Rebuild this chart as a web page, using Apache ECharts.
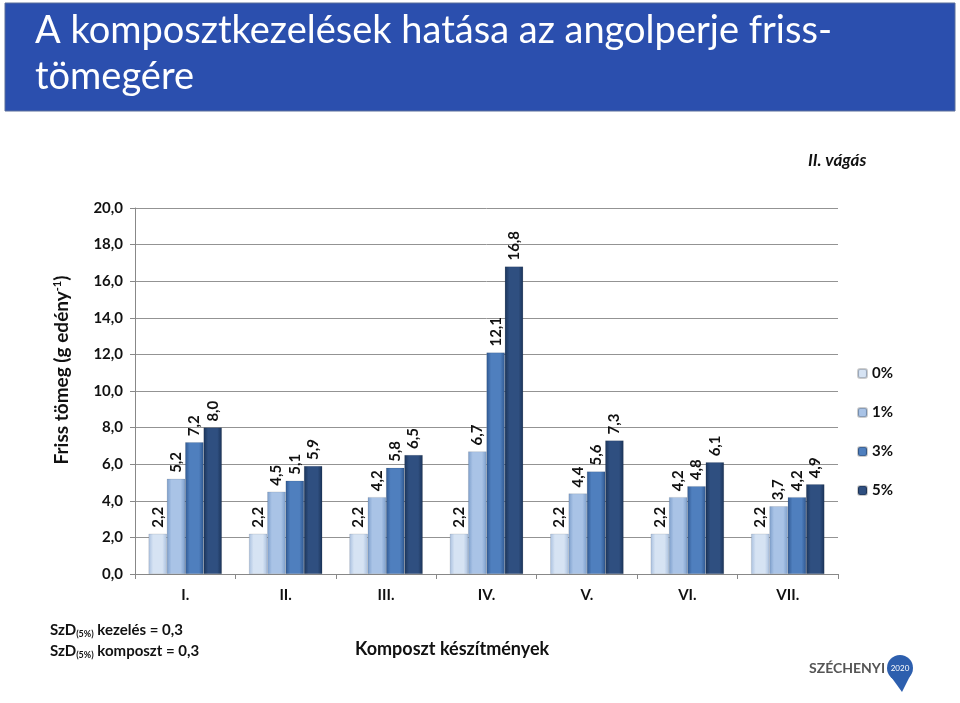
<!DOCTYPE html>
<html>
<head>
<meta charset="utf-8">
<script src="https://cdn.jsdelivr.net/npm/echarts@6/dist/echarts.min.js"></script>
<style>
html, body { margin: 0; padding: 0; background: #fff; }
#chart { width: 960px; height: 703px; }
</style>
</head>
<body>
<div id="chart"></div>
<script>
// kategóriák (komposzt készítmények)
var kategoriak = ['I.', 'II.', 'III.', 'IV.', 'V.', 'VI.', 'VII.'];
var sorozatNevek = ['0%', '1%', '3%', '5%'];
// friss tömeg, g edény-1
var adat0 = [2.2, 2.2, 2.2, 2.2, 2.2, 2.2, 2.2];
var adat1 = [5.2, 4.5, 4.2, 6.7, 4.4, 4.2, 3.7];
var adat3 = [7.2, 5.1, 5.8, 12.1, 5.6, 4.8, 4.2];
var adat5 = [8.0, 5.9, 6.5, 16.8, 7.3, 6.1, 4.9];
var szinek = [
  ['#d6e3f3', '#a9c0df'],
  ['#a9c3e6', '#7c9ecb'],
  ['#4f7fbe', '#2f5891'],
  ['#2f4f80', '#1a3358']
];

var betu = 'Lato, "Open Sans", sans-serif';

function grad(c) {
  return new echarts.graphic.LinearGradient(0, 0, 1, 0, [
    { offset: 0, color: c[1] },
    { offset: 0.25, color: c[0] },
    { offset: 0.75, color: c[0] },
    { offset: 1, color: c[1] }
  ]);
}

function sor(nev, adat, i) {
  return {
    name: nev,
    type: 'bar',
    data: adat,
    barGap: '0%',
    barCategoryGap: '27%',
    itemStyle: { color: grad(szinek[i]), borderColor: 'rgba(0,0,0,0.2)', borderWidth: 0.5 },
    label: {
      show: true,
      position: 'top',
      rotate: 90,
      align: 'left',
      verticalAlign: 'middle',
      distance: 6,
      color: '#111',
      fontWeight: 'bold',
      fontSize: 15,
      fontFamily: betu,
      formatter: function (p) { return p.value.toFixed(1).replace('.', ','); }
    }
  };
}

var chart = echarts.init(document.getElementById('chart'));
chart.setOption({
  animation: false,
  backgroundColor: '#fff',
  color: szinek.map(function (c) { return c[1]; }),
  grid: { left: 135, right: 122, top: 208, bottom: 129 },
  legend: {
    orient: 'vertical',
    left: 852,
    top: 361,
    itemWidth: 9,
    itemHeight: 9,
    itemGap: 24,
    data: sorozatNevek,
    textStyle: { fontWeight: 'bold', fontSize: 15, color: '#111', fontFamily: betu }
  },
  xAxis: {
    type: 'category',
    data: kategoriak,
    axisLine: { lineStyle: { color: '#888' } },
    axisTick: { show: true, alignWithLabel: false, length: 5, lineStyle: { color: '#888' } },
    axisLabel: { fontWeight: 'bold', fontSize: 15, color: '#111', margin: 14, fontFamily: betu }
  },
  yAxis: {
    type: 'value',
    min: 0,
    max: 20,
    interval: 2,
    axisLine: { show: true, lineStyle: { color: '#888' } },
    axisTick: { show: true, length: 5, lineStyle: { color: '#888' } },
    splitLine: { lineStyle: { color: '#939393' } },
    axisLabel: {
      fontWeight: 'bold', fontSize: 15, color: '#111', margin: 12, fontFamily: betu,
      formatter: function (v) { return v.toFixed(1).replace('.', ','); }
    }
  },
  series: [
    sor(sorozatNevek[0], adat0, 0),
    sor(sorozatNevek[1], adat1, 1),
    sor(sorozatNevek[2], adat3, 2),
    sor(sorozatNevek[3], adat5, 3)
  ],
  graphic: [
    { type: 'rect', shape: { x: 5, y: 3, width: 950, height: 108 }, style: { fill: '#2b4fae', stroke: '#5a6f9a', lineWidth: 1 } },
    { type: 'text', left: 35, top: 12, style: { text: 'A komposztkezelések hatása az angolperje friss-', fill: '#fff', fontSize: 38, fontFamily: betu } },
    { type: 'text', left: 35, top: 58, style: { text: 'tömegére', fill: '#fff', fontSize: 38, fontFamily: betu } },
    { type: 'text', left: 808, top: 152, style: { text: 'II. vágás', fill: '#111', fontSize: 17, fontWeight: 'bold', fontStyle: 'italic', fontFamily: betu } },
    // y tengely felirata
    { type: 'text', x: 62, y: 370, rotation: Math.PI / 2, style: {
      text: '{a|Friss tömeg (g edény}{s|-1}{a|)}',
      align: 'center', verticalAlign: 'middle',
      rich: {
        a: { fontWeight: 'bold', fontSize: 19, fill: '#111', fontFamily: betu },
        s: { fontWeight: 'bold', fontSize: 11, fill: '#111', fontFamily: betu, padding: [0, 0, 9, 0] }
      }
    } },
    { type: 'text', left: 50, top: 622, style: {
      text: '{a|SzD}{s|(5%)}{a| kezelés = 0,3}\n{a|SzD}{s|(5%)}{a| komposzt = 0,3}',
      rich: {
        a: { fontWeight: 'bold', fontSize: 15, fill: '#111', fontFamily: betu, lineHeight: 21 },
        s: { fontWeight: 'bold', fontSize: 9, fill: '#111', fontFamily: betu, lineHeight: 21, padding: [8, 0, 0, 0] }
      }
    } },
    { type: 'text', left: 355, top: 640, style: { text: 'Komposzt készítmények', fill: '#111', fontSize: 18, fontWeight: 'bold', fontFamily: betu } },
    // Széchenyi 2020 logó
    { type: 'text', left: 809, top: 661, style: { text: 'SZÉCHENYI', fill: '#555', fontSize: 14, fontWeight: 'bold', fontFamily: betu } },
    { type: 'polygon', shape: { points: [[889, 674], [911, 674], [902, 692]] }, style: { fill: '#2d5fae' } },
    { type: 'circle', shape: { cx: 900, cy: 668, r: 13 }, style: { fill: '#2d5fae' } },
    { type: 'text', x: 900, y: 668, style: { text: '2020', fill: '#fff', fontSize: 8, fontFamily: betu, align: 'center', verticalAlign: 'middle' } }
  ]
});
</script>
</body>
</html>
